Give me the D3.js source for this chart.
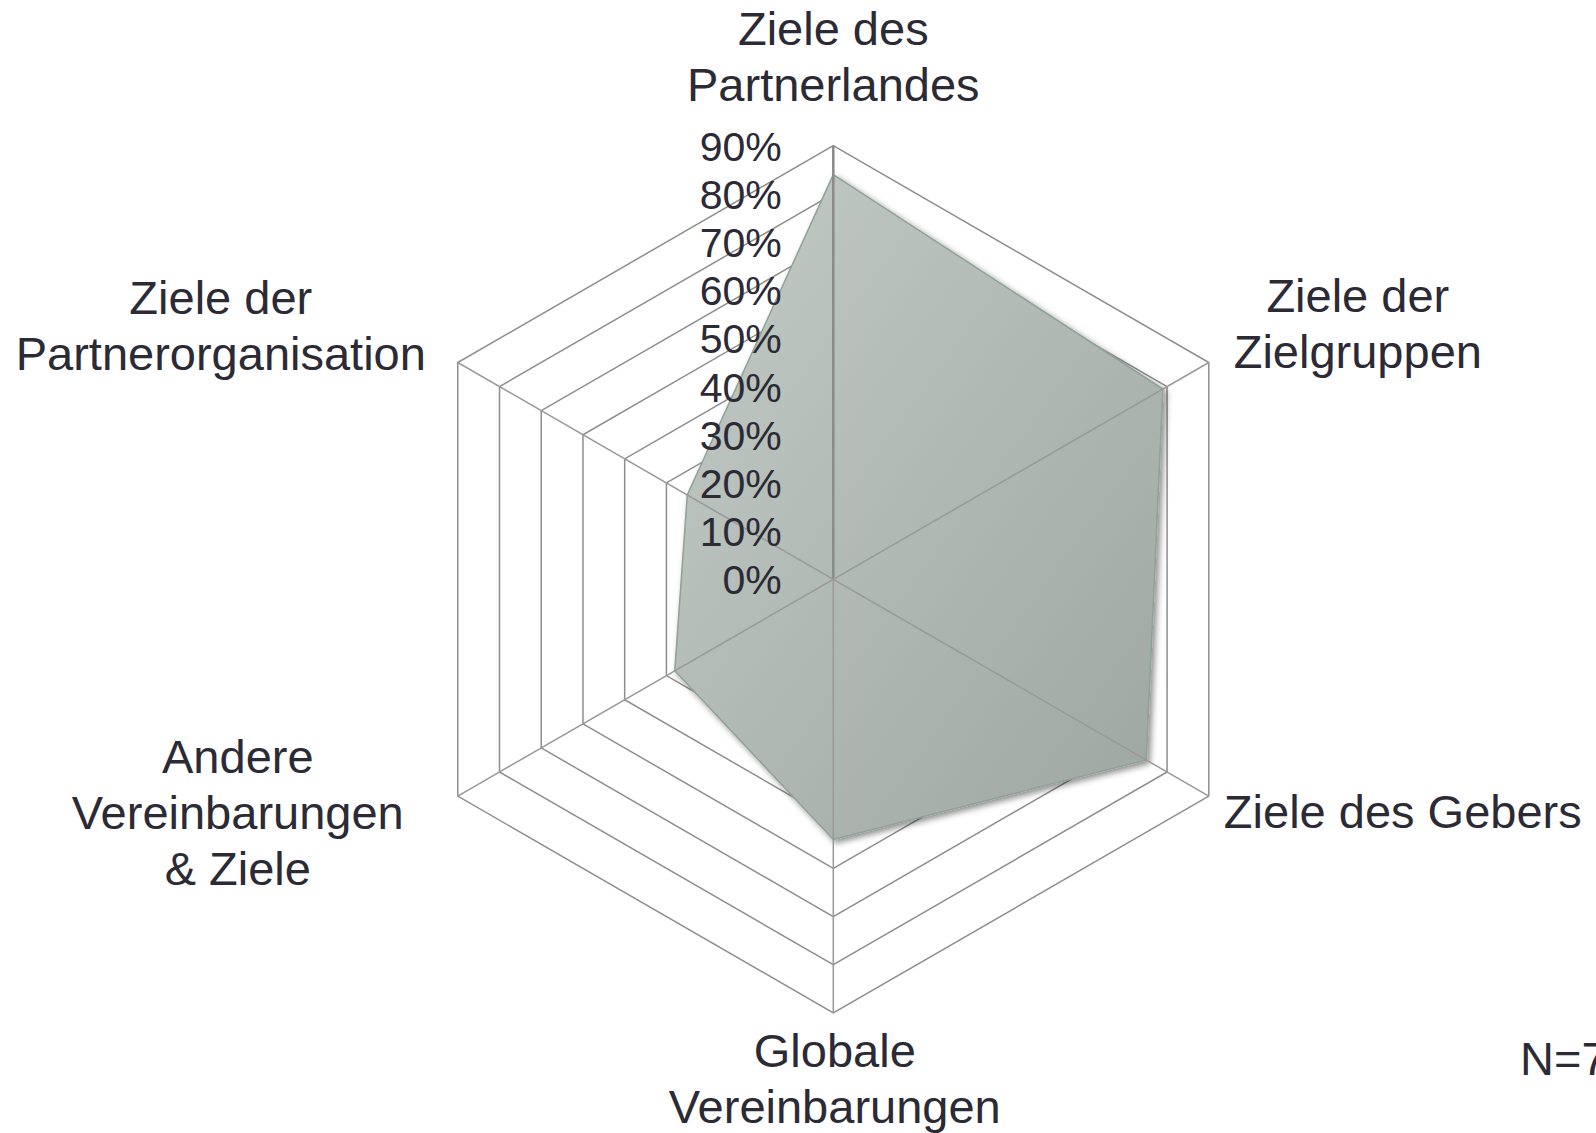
<!DOCTYPE html>
<html>
<head>
<meta charset="utf-8">
<script src="https://cdn.jsdelivr.net/npm/d3@7"></script>
<style>
  html, body { margin: 0; padding: 0; background: #fff; overflow: hidden; }
  text { font-family: "Liberation Sans", Arial, sans-serif; fill: #2b2a35; }
</style>
</head>
<body>
<div id="chart"></div>
<script>
// axes (clockwise from top) and shares
var categories = [
  ["Ziele des", "Partnerlandes"],
  ["Ziele der", "Zielgruppen"],
  ["Ziele des Gebers"],
  ["Globale", "Vereinbarungen"],
  ["Andere", "Vereinbarungen", "& Ziele"],
  ["Ziele der", "Partnerorganisation"]
];
var values = [0.84, 0.79, 0.75, 0.54, 0.38, 0.35];
var ticks = [0, 0.1, 0.2, 0.3, 0.4, 0.5, 0.6, 0.7, 0.8, 0.9];
var note = "N=7";

// layout
var width = 1596, height = 1133;
var cx = 833.3, cy = 579.3, radius = 433.6;
var fs = 47, lineH = 56;
// first-line baseline offset of each axis label from its outer vertex
var labelNudge = [[0, -101], [149, -51], [194, 32], [1.5, 54], [-220, -23], [-237, -49]];

var svg = d3.select("#chart").append("svg")
    .attr("width", width)
    .attr("height", height);

var defs = svg.append("defs");
var grad = defs.append("linearGradient")
    .attr("id", "fillGrad")
    .attr("x1", "0%").attr("y1", "0%")
    .attr("x2", "100%").attr("y2", "100%");
grad.append("stop").attr("offset", "0%").attr("stop-color", "#c2cbc5");
grad.append("stop").attr("offset", "100%").attr("stop-color", "#9da6a1");

var filt = defs.append("filter")
    .attr("id", "shadow")
    .attr("x", "-10%").attr("y", "-10%")
    .attr("width", "120%").attr("height", "120%");
filt.append("feDropShadow")
    .attr("dx", 3).attr("dy", 3)
    .attr("stdDeviation", 3)
    .attr("flood-color", "#000")
    .attr("flood-opacity", 0.45);

var g = svg.append("g")
    .attr("transform", "translate(" + cx + "," + cy + ")");

var rScale = d3.scaleLinear()
    .domain([0, 0.9])
    .range([0, radius]);

var n = categories.length;
var angle = d3.scaleLinear()
    .domain([0, n])
    .range([0, 2 * Math.PI]);

function pt(i, v) {
  var a = angle(i);
  return [rScale(v) * Math.sin(a), -rScale(v) * Math.cos(a)];
}

// rings
var ringLine = d3.line().curve(d3.curveLinearClosed);
g.selectAll(".ring")
    .data(ticks.slice(1))
    .enter().append("path")
    .attr("class", "ring")
    .attr("d", function(t) { return ringLine(d3.range(n).map(function(i) { return pt(i, t); })); })
    .attr("fill", "none")
    .attr("stroke", "#8e8e8e")
    .attr("stroke-width", 1.5);

// data area
var area = d3.line()
    .x(function(d, i) { return pt(i, d)[0]; })
    .y(function(d, i) { return pt(i, d)[1]; })
    .curve(d3.curveLinearClosed);

g.append("path")
    .datum(values)
    .attr("d", area)
    .attr("fill", "url(#fillGrad)")
    .attr("stroke", "#8fa297")
    .attr("stroke-width", 1.5)
    .attr("filter", "url(#shadow)");

// spokes
g.selectAll(".spoke")
    .data(d3.range(n))
    .enter().append("line")
    .attr("class", "spoke")
    .attr("x1", 0).attr("y1", 0)
    .attr("x2", function(i) { return pt(i, 0.9)[0]; })
    .attr("y2", function(i) { return pt(i, 0.9)[1]; })
    .attr("stroke", function(i) { return i == 0 ? "#8a8a8a" : "#999"; })
    .attr("stroke-width", function(i) { return i == 0 ? 2.5 : 1.5; });

// tick labels
g.selectAll(".tick")
    .data(ticks)
    .enter().append("text")
    .attr("class", "tick")
    .attr("x", -51.6)
    .attr("y", function(t) { return -rScale(t) + 15; })
    .attr("text-anchor", "end")
    .style("font-size", "41px")
    .text(d3.format(".0%"));

// axis labels
categories.forEach(function(lines, i) {
  var p = pt(i, 0.9);
  var t = g.append("text")
      .attr("text-anchor", "middle")
      .style("font-size", fs + "px");
  lines.forEach(function(s, k) {
    t.append("tspan")
        .attr("x", p[0] + labelNudge[i][0])
        .attr("y", p[1] + labelNudge[i][1] + k * lineH)
        .text(s);
  });
});

// sample size note, cut at the right edge as in the source
svg.append("text")
    .attr("x", 1520)
    .attr("y", 1075)
    .style("font-size", fs + "px")
    .text(note);
</script>
</body>
</html>
